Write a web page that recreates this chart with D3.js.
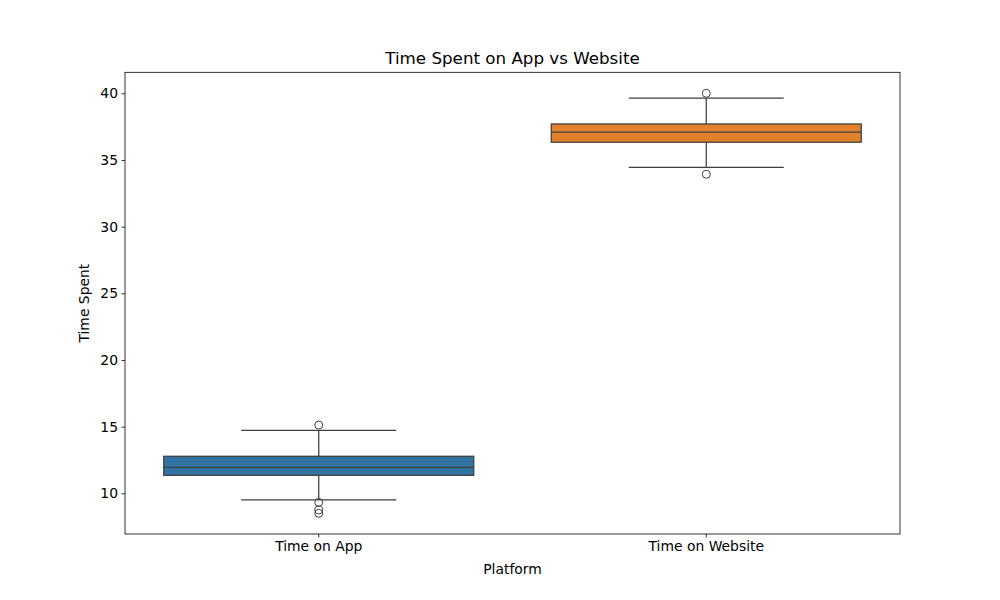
<!DOCTYPE html>
<html><head><meta charset="utf-8">
<script src="https://cdn.jsdelivr.net/npm/d3@7"></script>
<style>body{margin:0;background:#fff}svg{display:block}text{font-family:"DejaVu Sans",sans-serif}</style>
</head><body>
<svg id="c" width="1000" height="600"></svg>
<script>
const categories = ["Time on App", "Time on Website"];
const q1 = [11.35, 36.33];
const medians = [11.95, 37.08];
const q3 = [12.78, 37.70];
const whiskerLow = [9.50, 34.45];
const whiskerHigh = [14.725, 39.63];
const outliers = [[15.12, 9.325, 8.75, 8.50], [40.0, 33.93]];
const yTicks = [10, 15, 20, 25, 30, 35, 40];
const colors = ["#3274a1", "#e1812c"];

const svg = d3.select("#c");
const L = 125, R = 900, T = 72.3, B = 534;
const x = d3.scaleBand().domain(categories).range([L, R]).paddingInner(0).paddingOuter(0);
const y = d3.scaleLinear().domain([6.95, 41.575]).range([B, T]);
const line = "#3f3f3f";
const bw = x.bandwidth() * 0.8;

categories.forEach((c, i) => {
  const cx = x(c) + x.bandwidth() / 2;
  const g = svg.append("g");
  // whiskers
  g.append("line").attr("x1", cx).attr("x2", cx).attr("y1", y(q3[i])).attr("y2", y(whiskerHigh[i])).attr("stroke", line).attr("stroke-width", 1.25);
  g.append("line").attr("x1", cx).attr("x2", cx).attr("y1", y(q1[i])).attr("y2", y(whiskerLow[i])).attr("stroke", line).attr("stroke-width", 1.25);
  [whiskerHigh[i], whiskerLow[i]].forEach(v => {
    g.append("line").attr("x1", cx - bw / 4).attr("x2", cx + bw / 4).attr("y1", y(v)).attr("y2", y(v)).attr("stroke", line).attr("stroke-width", 1.25);
  });
  g.append("rect").attr("x", cx - bw / 2).attr("width", bw).attr("y", y(q3[i])).attr("height", y(q1[i]) - y(q3[i]))
    .attr("fill", colors[i]).attr("stroke", line).attr("stroke-width", 1.25);
  g.append("line").attr("x1", cx - bw / 2).attr("x2", cx + bw / 2).attr("y1", y(medians[i])).attr("y2", y(medians[i])).attr("stroke", line).attr("stroke-width", 1.25);
  outliers[i].forEach(v => {
    g.append("circle").attr("cx", cx).attr("cy", y(v)).attr("r", 4).attr("fill", "none").attr("stroke", line).attr("stroke-width", 1);
  });
});

// axes
const ya = svg.append("g").attr("transform", `translate(${L},0)`).call(d3.axisLeft(y).tickValues(yTicks).tickSize(3.5).tickPadding(3.5));
const xa = svg.append("g").attr("transform", `translate(0,${B})`).call(d3.axisBottom(x).tickSize(3.5).tickPadding(3.5));
[ya, xa].forEach(a => {
  a.select(".domain").remove();
  a.selectAll("text").attr("font-size", 13.9).attr("fill", "#000").style("font-family", "DejaVu Sans");
  a.selectAll("line").attr("stroke", "#000").attr("stroke-width", 0.8);
});
svg.append("rect").attr("x", L).attr("y", T).attr("width", R - L).attr("height", B - T).attr("fill", "none").attr("stroke", "#000").attr("stroke-width", 0.8);

svg.append("text").attr("x", (L + R) / 2).attr("y", 64).attr("text-anchor", "middle").attr("font-size", 16.7).text("Time Spent on App vs Website");
svg.append("text").attr("x", (L + R) / 2).attr("y", 574).attr("text-anchor", "middle").attr("font-size", 13.9).text("Platform");
svg.append("text").attr("transform", `translate(89,${(T + B) / 2}) rotate(-90)`).attr("text-anchor", "middle").attr("font-size", 13.9).text("Time Spent");
</script>
</body></html>
